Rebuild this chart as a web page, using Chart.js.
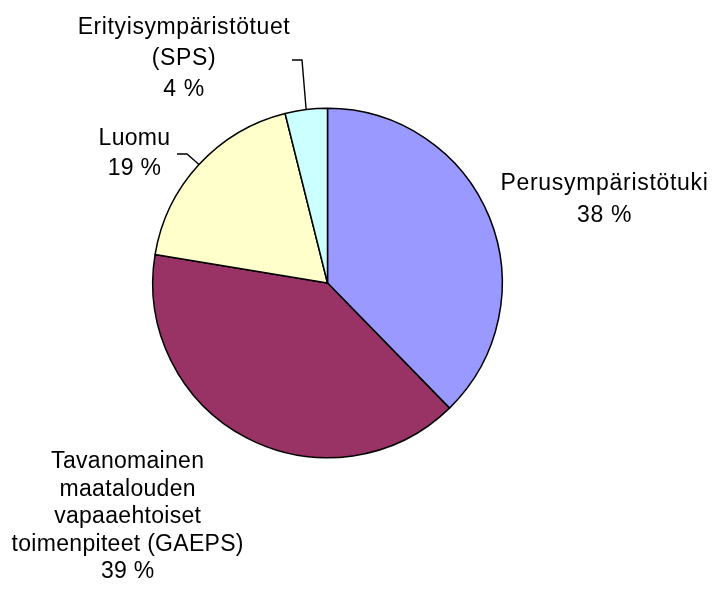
<!DOCTYPE html>
<html>
<head>
<meta charset="utf-8">
<script src="https://cdn.jsdelivr.net/npm/chart.js@4/dist/chart.umd.min.js"></script>
<style>
  html, body { margin: 0; padding: 0; background: #fff; }
</style>
</head>
<body>
<canvas id="pie" width="712" height="597"></canvas>
<script>
// tukimuodot ja osuudet (%), osuudet luettu sektorien kulmista
const categories = [
  "Perusympäristötuki",
  "Tavanomainen maatalouden vapaaehtoiset toimenpiteet (GAEPS)",
  "Luomu",
  "Erityisympäristötuet (SPS)"
];
const shares = [37.7, 39.9, 18.5, 3.9];
// prosentit niin kuin ne kuvassa lukevat
const percentText = ["38 %", "39 %", "19 %", "4 %"];
const sliceColors = ["#9999FF", "#993366", "#FFFFCC", "#CCFFFF"];

// label text lines per slice, split as in the picture
const labelLines = [
  ["Perusympäristötuki"],
  ["Tavanomainen", "maatalouden", "vapaaehtoiset", "toimenpiteet (GAEPS)"],
  ["Luomu"],
  ["Erityisympäristötuet", "(SPS)"]
];

// where each label block sits (center x, first line y, line gap) and leader elbows
const labelPlace = [
  { x: 604.5, y: 183.5, gap: 32, ls: "0.7px" },
  { x: 127.7, y: 462, gap: 27.4, ls: "0.3px" },
  { x: 134.5, y: 138.5, gap: 30, ls: "0.3px" },
  { x: 184, y: 27.5, gap: 31.2, ls: "0.6px" }
];
const leaders = [null, null, { x1: 177, x2: 187, y: 154 }, { x1: 292, x2: 302, y: 60 }];

const pieLabels = {
  id: "pieLabels",
  afterDraw(chart) {
    const ctx = chart.ctx;
    const meta = chart.getDatasetMeta(0);
    ctx.save();
    ctx.font = "23px 'Liberation Sans', Arial, sans-serif";
    ctx.fillStyle = "#000";
    ctx.textAlign = "center";
    ctx.textBaseline = "middle";
    meta.data.forEach((arc, i) => {
      const p = labelPlace[i];
      ctx.letterSpacing = p.ls;
      const lines = labelLines[i].concat([percentText[i]]);
      lines.forEach((t, k) => ctx.fillText(t, p.x, p.y + k * p.gap));
      const ld = leaders[i];
      if (ld) {
        const mid = (arc.startAngle + arc.endAngle) / 2;
        const ex = arc.x + Math.cos(mid) * arc.outerRadius;
        const ey = arc.y + Math.sin(mid) * arc.outerRadius;
        ctx.strokeStyle = "#000";
        ctx.lineWidth = 1.4;
        ctx.beginPath();
        ctx.moveTo(ld.x1, ld.y);
        ctx.lineTo(ld.x2, ld.y);
        ctx.lineTo(ex, ey);
        ctx.stroke();
      }
    });
    ctx.restore();
  }
};

new Chart(document.getElementById("pie"), {
  type: "pie",
  data: {
    labels: categories,
    datasets: [{
      data: shares,
      backgroundColor: sliceColors,
      borderColor: "#000",
      borderWidth: 1.5
    }]
  },
  options: {
    responsive: false,
    animation: false,
    layout: { padding: { left: 152, right: 209, top: 107.5, bottom: 138.5 } },
    plugins: {
      legend: { display: false },
      tooltip: { enabled: false }
    }
  },
  plugins: [pieLabels]
});
</script>
</body>
</html>
